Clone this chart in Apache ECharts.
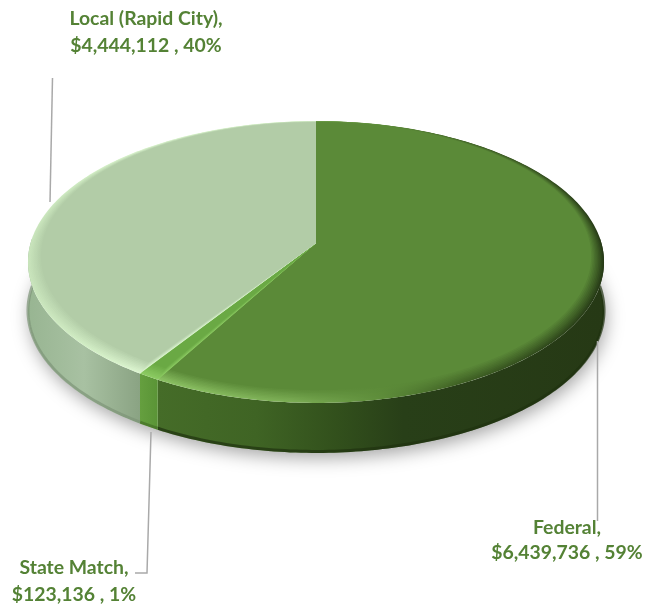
<!DOCTYPE html>
<html>
<head>
<meta charset="utf-8">
<style>
html, body { margin: 0; padding: 0; background: #fff; }
#container { width: 662px; height: 605px; }
</style>
<script src="https://cdn.jsdelivr.net/npm/echarts@6/dist/echarts.min.js"></script>
</head>
<body>
<div id="container"></div>
<script>
var names = ['Federal', 'State Match', 'Local (Rapid City)'];
var amounts = [6439736, 123136, 4444112];
var percents = ['59%', '1%', '40%'];

var total = amounts.reduce(function (a, b) { return a + b; }, 0);

// pie look: perspective disc, apex is where the slices meet
var cx = 316, cy = 243, ax = 285.4, by = 138.4, persp = 0.1347, depth = 50;
var viewSkew = 2.6;
var bevelR = 0.96, bevelShift = -0.03, bevelSteps = 9;

var topColors = ['#5b8a38', '#6aa944', '#b2cca7'];
var rimStops = [
    [[0, '#8cc264'], [0.3, '#7cae55'], [0.5, '#5e8d3a'], [0.68, '#3f6024'], [1, '#263a16']],
    [[0, '#8ccb62'], [1, '#8ccb62']],
    [[0, '#c8e4bb'], [0.6, '#d3efc6'], [1, '#dcf5d0']]
];
var wallStops = [
    [[0, '#456c28'], [0.22, '#3f6424'], [0.4, '#32501c'], [0.55, '#283f18'], [1, '#263915']],
    [[0, '#659f3f'], [1, '#5a9436']],
    [[0, '#98b592'], [0.5, '#a8c1a2'], [1, '#8aa383']]
];
var wallEdge = ['#1f3210', '#446f27', '#7d9477'];
var wallRange = [[158, 604], [140, 158], [28, 140]];
var rimRange = [[158, 604], [140, 158], [28, 140]];

var toRad = Math.PI / 180;

function project(deg, r, dv) {
    var a = deg + viewSkew * Math.sin(deg * toRad);
    var u = r * Math.sin(a * toRad);
    var v = -r * Math.cos(a * toRad) + dv;
    var w = 1 - persp * v;
    return [cx + ax * u / w, cy + by * v / w];
}

function arc(from, to, r, dv, dy) {
    var pts = [];
    var n = Math.max(2, Math.ceil(Math.abs(to - from)));
    for (var i = 0; i <= n; i++) {
        var p = project(from + (to - from) * i / n, r, dv);
        pts.push([p[0], p[1] + dy]);
    }
    return pts;
}

function sliceAngles(index) {
    var before = 0;
    for (var i = 0; i < index; i++) before += amounts[i];
    return [before / total * 360, (before + amounts[index]) / total * 360];
}

function hGrad(range, stops) {
    var list = stops.map(function (st) { return { offset: st[0], color: st[1] }; });
    return new echarts.graphic.LinearGradient(range[0], 0, range[1], 0, list, true);
}

function renderShadow() {
    return {
        type: 'polygon',
        shape: { points: arc(0, 360, 1, 0, depth) },
        style: { fill: '#fff', shadowColor: 'rgba(0,0,0,0.36)', shadowBlur: 18, shadowOffsetX: 2, shadowOffsetY: 5 }
    };
}

function renderWall(params) {
    var i = params.dataIndex;
    var ang = sliceAngles(i);
    var from = Math.max(ang[0], 85), to = Math.min(ang[1], 275);
    var upper = arc(from, to, 1, 0, 0);
    var lower = arc(to, from, 1, 0, depth);
    var edgeUp = arc(from, to, 1, 0, depth - 1.5);
    return {
        type: 'group',
        children: [
            { type: 'polygon', shape: { points: upper.concat(lower) }, style: { fill: hGrad(wallRange[i], wallStops[i]) } },
            { type: 'polyline', shape: { points: edgeUp }, style: { fill: null, stroke: wallEdge[i], lineWidth: 3, opacity: 0.7 } }
        ]
    };
}

function renderTop(params) {
    var i = params.dataIndex;
    var ang = sliceAngles(i);
    var children = [];
    for (var s = 0; s <= bevelSteps; s++) {
        var t = s / bevelSteps;
        var r = 1 - (1 - bevelR) * t;
        var dv = bevelShift * t;
        var stops = rimStops[i].map(function (st) {
            return [st[0], echarts.color.lerp(t, [st[1], topColors[i]])];
        });
        var pts = [[cx, cy]].concat(arc(ang[0], ang[1], r, dv, 0));
        children.push({
            type: 'polygon',
            shape: { points: pts },
            style: { fill: hGrad(rimRange[i], stops) }
        });
    }
    return { type: 'group', children: children };
}

var labelFont = 'bold 19.4px Lato';
var labelColor = '#548235';
var leaderColor = '#a9a9a9';
var labelPlace = [[567, 528, 553], [74, 568, 595], [146, 19, 46]];
var leaders = [
    [[597.5, 341], [597.5, 521]],
    [[151, 432], [147, 573], [135, 573]],
    [[52.5, 78], [50, 202]]
];

function money(v) {
    return '$' + String(v).replace(/\B(?=(\d{3})+$)/g, ',');
}

function renderLabel(params) {
    var i = params.dataIndex;
    var pl = labelPlace[i];
    return {
        type: 'group',
        children: [
            { type: 'polyline', shape: { points: leaders[i] }, style: { fill: null, stroke: leaderColor, lineWidth: 1.5 } },
            { type: 'text', style: { x: pl[0], y: pl[1], text: names[i] + ',', font: labelFont, fill: labelColor, align: 'center', verticalAlign: 'middle' } },
            { type: 'text', style: { x: pl[0], y: pl[2], text: money(amounts[i]) + ' , ' + percents[i], font: labelFont, fill: labelColor, align: 'center', verticalAlign: 'middle' } }
        ]
    };
}

var myChart = echarts.init(document.getElementById('container'), null, { renderer: 'canvas' });

var option = {
    backgroundColor: '#fff',
    animation: false,
    series: [
        { type: 'custom', coordinateSystem: 'none', z: 1, silent: true, data: [total], renderItem: renderShadow },
        { type: 'custom', coordinateSystem: 'none', z: 2, silent: true, data: amounts, renderItem: renderWall },
        { type: 'custom', coordinateSystem: 'none', z: 3, silent: true, data: amounts, renderItem: renderTop },
        { type: 'custom', coordinateSystem: 'none', z: 4, silent: true, data: amounts, renderItem: renderLabel }
    ]
};

myChart.setOption(option);
window.addEventListener('resize', myChart.resize);
</script>
</body>
</html>
